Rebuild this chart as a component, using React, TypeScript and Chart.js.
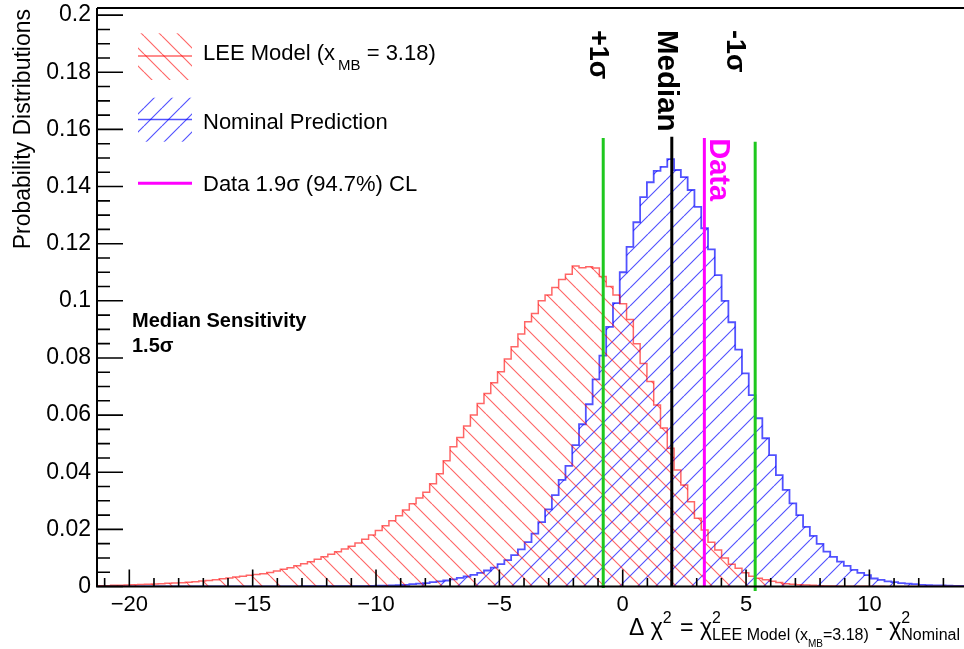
import React, { useEffect, useRef } from "react";
import { Chart, registerables } from "chart.js";

Chart.register(...registerables);

const FONT = '"Liberation Sans", Arial, Helvetica, sans-serif';

// Histogram binning (fixed-width bins)
const BIN_START = -21.31;
const BIN_WIDTH = 0.2752;
const BIN_COUNT = 128;
const X_MIN = BIN_START;
const X_MAX = BIN_START + BIN_COUNT * BIN_WIDTH;
const Y_MIN = 0;
const Y_MAX = 0.2025;

// Tick labels
const X_TICKS = [-20, -15, -10, -5, 0, 5, 10];
const Y_TICKS = [0, 0.02, 0.04, 0.06, 0.08, 0.1, 0.12, 0.14, 0.16, 0.18, 0.2];
const X_MINOR_STEP = 1;
const Y_MINOR_STEP = 0.005;

// LEE Model (x_MB = 3.18) probability per bin
const leeModel = [
  0.0003, 0.0003, 0.0004, 0.0004, 0.0005, 0.0006, 0.0007, 0.0008,
  0.0009, 0.001, 0.0011, 0.0012, 0.0013, 0.0015, 0.0017, 0.0019,
  0.0021, 0.0024, 0.0027, 0.003, 0.0033, 0.0036, 0.0039, 0.0042,
  0.0045, 0.0049, 0.0054, 0.006, 0.0066, 0.0073, 0.008, 0.0087,
  0.0095, 0.0104, 0.0113, 0.0122, 0.0131, 0.0141, 0.0152, 0.0165,
  0.018, 0.0196, 0.0213, 0.023, 0.0248, 0.0268, 0.029, 0.031,
  0.033, 0.036, 0.0395, 0.044, 0.0489, 0.0522, 0.0562, 0.06,
  0.0641, 0.0676, 0.0713, 0.0752, 0.0796, 0.0839, 0.0884, 0.0927,
  0.0956, 0.1, 0.102, 0.1047, 0.1075, 0.1093, 0.1122, 0.1116,
  0.1119, 0.1115, 0.1085, 0.105, 0.102, 0.099, 0.0935, 0.085,
  0.0781, 0.0718, 0.0635, 0.0555, 0.0484, 0.0408, 0.0355, 0.0297,
  0.0239, 0.0198, 0.0155, 0.0128, 0.01, 0.0078, 0.0064, 0.0048,
  0.0036, 0.0029, 0.0024, 0.0018, 0.0014, 0.001, 0.0008, 0.0006,
  0.0005, 0.0004, 0.0003, 0.0002, 0.0002, 0.0001, 0.0001, 0.0001,
  0.0001, 0.0001, 0.0001, 0.0001, 0, 0, 0, 0,
  0, 0, 0, 0, 0, 0, 0, 0,
];

// Nominal Prediction probability per bin
const nominalPrediction = [
  0, 0, 0, 0, 0, 0, 0, 0,
  0, 0, 0, 0, 0, 0, 0, 0,
  0, 0, 0, 0, 0, 0, 0, 0,
  0, 0, 0, 0, 0, 0, 0.0001, 0.0001,
  0.0001, 0.0001, 0.0001, 0.0001, 0.0001, 0.0001, 0.0001, 0.0001,
  0.0002, 0.0003, 0.0003, 0.0004, 0.0005, 0.0006, 0.0008, 0.001,
  0.0012, 0.0015, 0.0018, 0.0021, 0.0025, 0.003, 0.0035, 0.0041,
  0.0048, 0.0056, 0.0066, 0.0078, 0.0092, 0.011, 0.013, 0.0155,
  0.0185, 0.0225, 0.027, 0.032, 0.0373, 0.0422, 0.0495, 0.0568,
  0.0638, 0.0725, 0.0808, 0.0909, 0.0992, 0.11, 0.1189, 0.1275,
  0.1363, 0.1415, 0.1455, 0.1469, 0.1496, 0.1458, 0.1433, 0.1388,
  0.1329, 0.1254, 0.118, 0.109, 0.1, 0.0925, 0.0829, 0.0746,
  0.067, 0.0589, 0.0519, 0.046, 0.039, 0.0338, 0.0291, 0.025,
  0.0209, 0.0177, 0.0149, 0.0122, 0.0104, 0.0087, 0.0072, 0.0058,
  0.0048, 0.004, 0.0028, 0.0023, 0.0018, 0.0015, 0.0012, 0.001,
  0.0008, 0.0006, 0.0005, 0.0004, 0.0004, 0.0003, 0.0002, 0.0002,
];

// Vertical marker lines
const markerNames = ["+1\u03c3", "Median", "Data", "-1\u03c3"];
const markerValues = [-0.79, 1.99, 3.31, 5.37];
const markerTops = [0.157, 0.1574, 0.157, 0.1557];
const markerBottoms = [-0.0005, 0, 0, -0.0016];
const markerColors = ["#1ec81e", "#000000", "#ff00ff", "#1ec81e"];
const markerLabelColors = ["#000000", "#000000", "#ff00ff", "#000000"];
const markerLabelSizes = [27, 29.5, 29, 27];
const markerLabelDx = [-13.3, -13.4, 5.7, -28.6];
const markerLabelTop = [30, 30, 138.3, 30];

const RED = "rgba(255,0,0,0.6)";
const BLUE = "rgba(0,0,255,0.68)";

function binPoints(values: number[]) {
  const pts = values.map((v, i) => ({ x: BIN_START + i * BIN_WIDTH, y: v }));
  pts.push({ x: X_MAX, y: values[values.length - 1] });
  return pts;
}

function makeHatch(ctx: CanvasRenderingContext2D, color: string, s: number, back: boolean) {
  const c = document.createElement("canvas");
  c.width = s;
  c.height = s;
  const g = c.getContext("2d")!;
  g.strokeStyle = color;
  g.lineWidth = 1.15;
  g.beginPath();
  for (let k = -1; k <= 1; k++) {
    if (back) {
      g.moveTo(k * s, 0);
      g.lineTo(k * s + s, s);
    } else {
      g.moveTo(k * s, s);
      g.lineTo(k * s + s, 0);
    }
  }
  g.stroke();
  return ctx.createPattern(c, "repeat")!;
}

const f = (size: number, bold = false) => `${bold ? "bold " : ""}${size}px ${FONT}`;

function drawXTitle(ctx: CanvasRenderingContext2D, right: number) {
  const B = 635, SUP = 622.5, SUB = 640, SUBSUB = 647;
  const run = (draw: boolean, x0: number) => {
    let x = x0;
    const put = (t: string, s: number, y: number) => {
      ctx.font = f(s);
      if (draw) ctx.fillText(t, x, y);
      return ctx.measureText(t).width;
    };
    x += put("\u0394 \u03c7", 23, B);
    x += put("2", 16, SUP) + 2;
    x += put(" = ", 23, B);
    x += put("\u03c7", 23, B);
    put("2", 16, SUP);
    x += put("LEE Model (x", 16, SUB);
    x += put("MB", 10, SUBSUB);
    x += put("=3.18)", 16, SUB);
    x += put(" - ", 23, B);
    x += put("\u03c7", 23, B);
    put("2", 16, SUP);
    x += put("Nominal", 16, SUB);
    return x - x0;
  };
  ctx.textAlign = "left";
  ctx.textBaseline = "alphabetic";
  const w = run(false, 0);
  run(true, right - w);
}

const overlay = {
  id: "rootOverlay",
  afterDatasetsDraw(chart: any) {
    const { ctx, scales } = chart;
    const xs = scales.x, ys = scales.y;
    ctx.save();
    for (let i = 0; i < markerValues.length; i++) {
      const px = xs.getPixelForValue(markerValues[i]);
      ctx.beginPath();
      ctx.strokeStyle = markerColors[i];
      ctx.lineWidth = 3;
      ctx.moveTo(px, ys.getPixelForValue(markerBottoms[i]));
      ctx.lineTo(px, ys.getPixelForValue(markerTops[i]));
      ctx.stroke();
    }
    ctx.restore();
  },
  afterDraw(chart: any) {
    const { ctx, scales, chartArea } = chart;
    const xs = scales.x, ys = scales.y;
    const { left, right, top, bottom } = chartArea;
    ctx.save();
    // frame
    ctx.strokeStyle = "#000";
    ctx.lineWidth = 2;
    ctx.beginPath();
    ctx.moveTo(left, top);
    ctx.lineTo(right, top);
    ctx.moveTo(left, top);
    ctx.lineTo(left, bottom);
    ctx.lineTo(right, bottom);
    ctx.stroke();
    // y ticks
    ctx.lineWidth = 1.6;
    ctx.beginPath();
    const nY = Math.round((Y_MAX - Y_MIN) / Y_MINOR_STEP);
    for (let k = 0; k <= nY; k++) {
      const v = Y_MIN + k * Y_MINOR_STEP;
      if (v > Y_MAX + 1e-9) break;
      const py = ys.getPixelForValue(v);
      const major = k % 4 === 0;
      ctx.moveTo(left, py);
      ctx.lineTo(left + (major ? 26 : 13), py);
    }
    // x ticks
    for (let v = Math.ceil(X_MIN); v <= X_MAX; v += X_MINOR_STEP) {
      const px = xs.getPixelForValue(v);
      const major = v % 5 === 0;
      ctx.moveTo(px, bottom);
      ctx.lineTo(px, bottom - (major ? 17 : 8.5));
    }
    ctx.stroke();

    // y title
    ctx.fillStyle = "#000";
    ctx.save();
    ctx.translate(30, 9);
    ctx.rotate(-Math.PI / 2);
    ctx.font = f(23);
    ctx.textAlign = "right";
    ctx.textBaseline = "alphabetic";
    ctx.fillText("Probability Distributions", 0, 0);
    ctx.restore();

    // x title
    ctx.fillStyle = "#000";
    drawXTitle(ctx, 960);

    // marker labels (rotated)
    for (let i = 0; i < markerNames.length; i++) {
      const px = xs.getPixelForValue(markerValues[i]) + markerLabelDx[i];
      ctx.save();
      ctx.translate(px, markerLabelTop[i]);
      ctx.rotate(Math.PI / 2);
      ctx.font = f(markerLabelSizes[i], true);
      ctx.textAlign = "left";
      ctx.textBaseline = "alphabetic";
      ctx.fillStyle = markerLabelColors[i];
      ctx.fillText(markerNames[i], 0, 0);
      ctx.restore();
    }

    // Median sensitivity text
    ctx.fillStyle = "#000";
    ctx.font = f(20, true);
    ctx.textAlign = "left";
    ctx.textBaseline = "alphabetic";
    ctx.fillText("Median Sensitivity", 132, 326.7);
    ctx.fillText("1.5\u03c3", 132, 351.7);

    // legend
    const ds = chart.data.datasets;
    const bx0 = 138, bx1 = 192;
    ctx.fillStyle = ds[0].backgroundColor;
    ctx.fillRect(bx0, 33.3, bx1 - bx0, 46.7);
    ctx.fillStyle = ds[1].backgroundColor;
    ctx.fillRect(bx0, 97.7, bx1 - bx0, 44);
    ctx.lineWidth = 1.6;
    ctx.strokeStyle = ds[0].borderColor;
    ctx.beginPath();
    ctx.moveTo(bx0, 56);
    ctx.lineTo(bx1, 56);
    ctx.stroke();
    ctx.strokeStyle = ds[1].borderColor;
    ctx.beginPath();
    ctx.moveTo(bx0, 119.5);
    ctx.lineTo(bx1, 119.5);
    ctx.stroke();
    ctx.strokeStyle = "#ff00ff";
    ctx.lineWidth = 3;
    ctx.beginPath();
    ctx.moveTo(bx0, 183.3);
    ctx.lineTo(bx1, 183.3);
    ctx.stroke();

    ctx.fillStyle = "#000";
    let tx = 203;
    ctx.font = f(22);
    ctx.fillText("LEE Model (x", tx, 59.5);
    tx += ctx.measureText("LEE Model (x").width + 3;
    ctx.font = f(15);
    ctx.fillText("MB", tx, 69.5);
    tx += ctx.measureText("MB").width;
    ctx.font = f(22);
    ctx.fillText(" = 3.18)", tx, 59.5);
    ctx.fillText("Nominal Prediction", 203, 128.5);
    ctx.fillText("Data 1.9\u03c3 (94.7%) CL", 203, 190.7);

    ctx.restore();
  },
};

export default function App() {
  const ref = useRef<HTMLCanvasElement>(null);
  useEffect(() => {
    const canvas = ref.current!;
    const ctx = canvas.getContext("2d")!;
    const redHatch = makeHatch(ctx, RED, 18, true);
    const blueHatch = makeHatch(ctx, BLUE, 18, false);
    const zeroPad = (s: any) => {
      s.paddingTop = 0;
      s.paddingBottom = 0;
      s.paddingLeft = 0;
      s.paddingRight = 0;
    };
    const chart = new Chart(canvas, {
      type: "line",
      data: {
        datasets: [
          {
            label: "LEE Model (x_MB = 3.18)",
            data: binPoints(leeModel),
            stepped: true,
            fill: "origin",
            backgroundColor: redHatch as any,
            borderColor: RED,
            borderWidth: 1.5,
            pointRadius: 0,
          },
          {
            label: "Nominal Prediction",
            data: binPoints(nominalPrediction),
            stepped: true,
            fill: "origin",
            backgroundColor: blueHatch as any,
            borderColor: BLUE,
            borderWidth: 1.8,
            pointRadius: 0,
          },
        ],
      },
      options: {
        responsive: false,
        animation: false,
        devicePixelRatio: 1,
        layout: { padding: { left: 0, top: 8, right: 2, bottom: 0 } },
        plugins: { legend: { display: false }, tooltip: { enabled: false } },
        scales: {
          x: {
            type: "linear",
            min: X_MIN,
            max: X_MAX,
            grid: { display: false, drawTicks: false },
            border: { display: false },
            ticks: {
              autoSkip: false,
              maxRotation: 0,
              padding: 5,
              color: "#000",
              font: { family: FONT, size: 22 },
              callback: (v: any) => (Number(v) < 0 ? "\u2212" + Math.abs(Number(v)) : String(v)),
            },
            afterBuildTicks: (s: any) => {
              s.ticks = X_TICKS.map((value) => ({ value }));
            },
            afterFit: (s: any) => {
              s.height = 62.5;
              zeroPad(s);
            },
          },
          y: {
            type: "linear",
            min: Y_MIN,
            max: Y_MAX,
            grid: { display: false, drawTicks: false },
            border: { display: false },
            ticks: {
              autoSkip: false,
              padding: 6,
              color: "#000",
              font: { family: FONT, size: 23 },
              callback: (v: any) => String(Number(Number(v).toFixed(3))),
            },
            afterBuildTicks: (s: any) => {
              s.ticks = Y_TICKS.map((value) => ({ value }));
            },
            afterFit: (s: any) => {
              s.width = 97;
              zeroPad(s);
            },
          },
        },
      },
      plugins: [overlay],
    });
    return () => chart.destroy();
  }, []);
  return (
    <div
      style={{
        position: "fixed",
        left: 0,
        top: 0,
        width: 964,
        height: 649,
        overflow: "hidden",
        background: "#fff",
      }}
    >
      <canvas ref={ref} width={968} height={649} style={{ display: "block" }} />
    </div>
  );
}
